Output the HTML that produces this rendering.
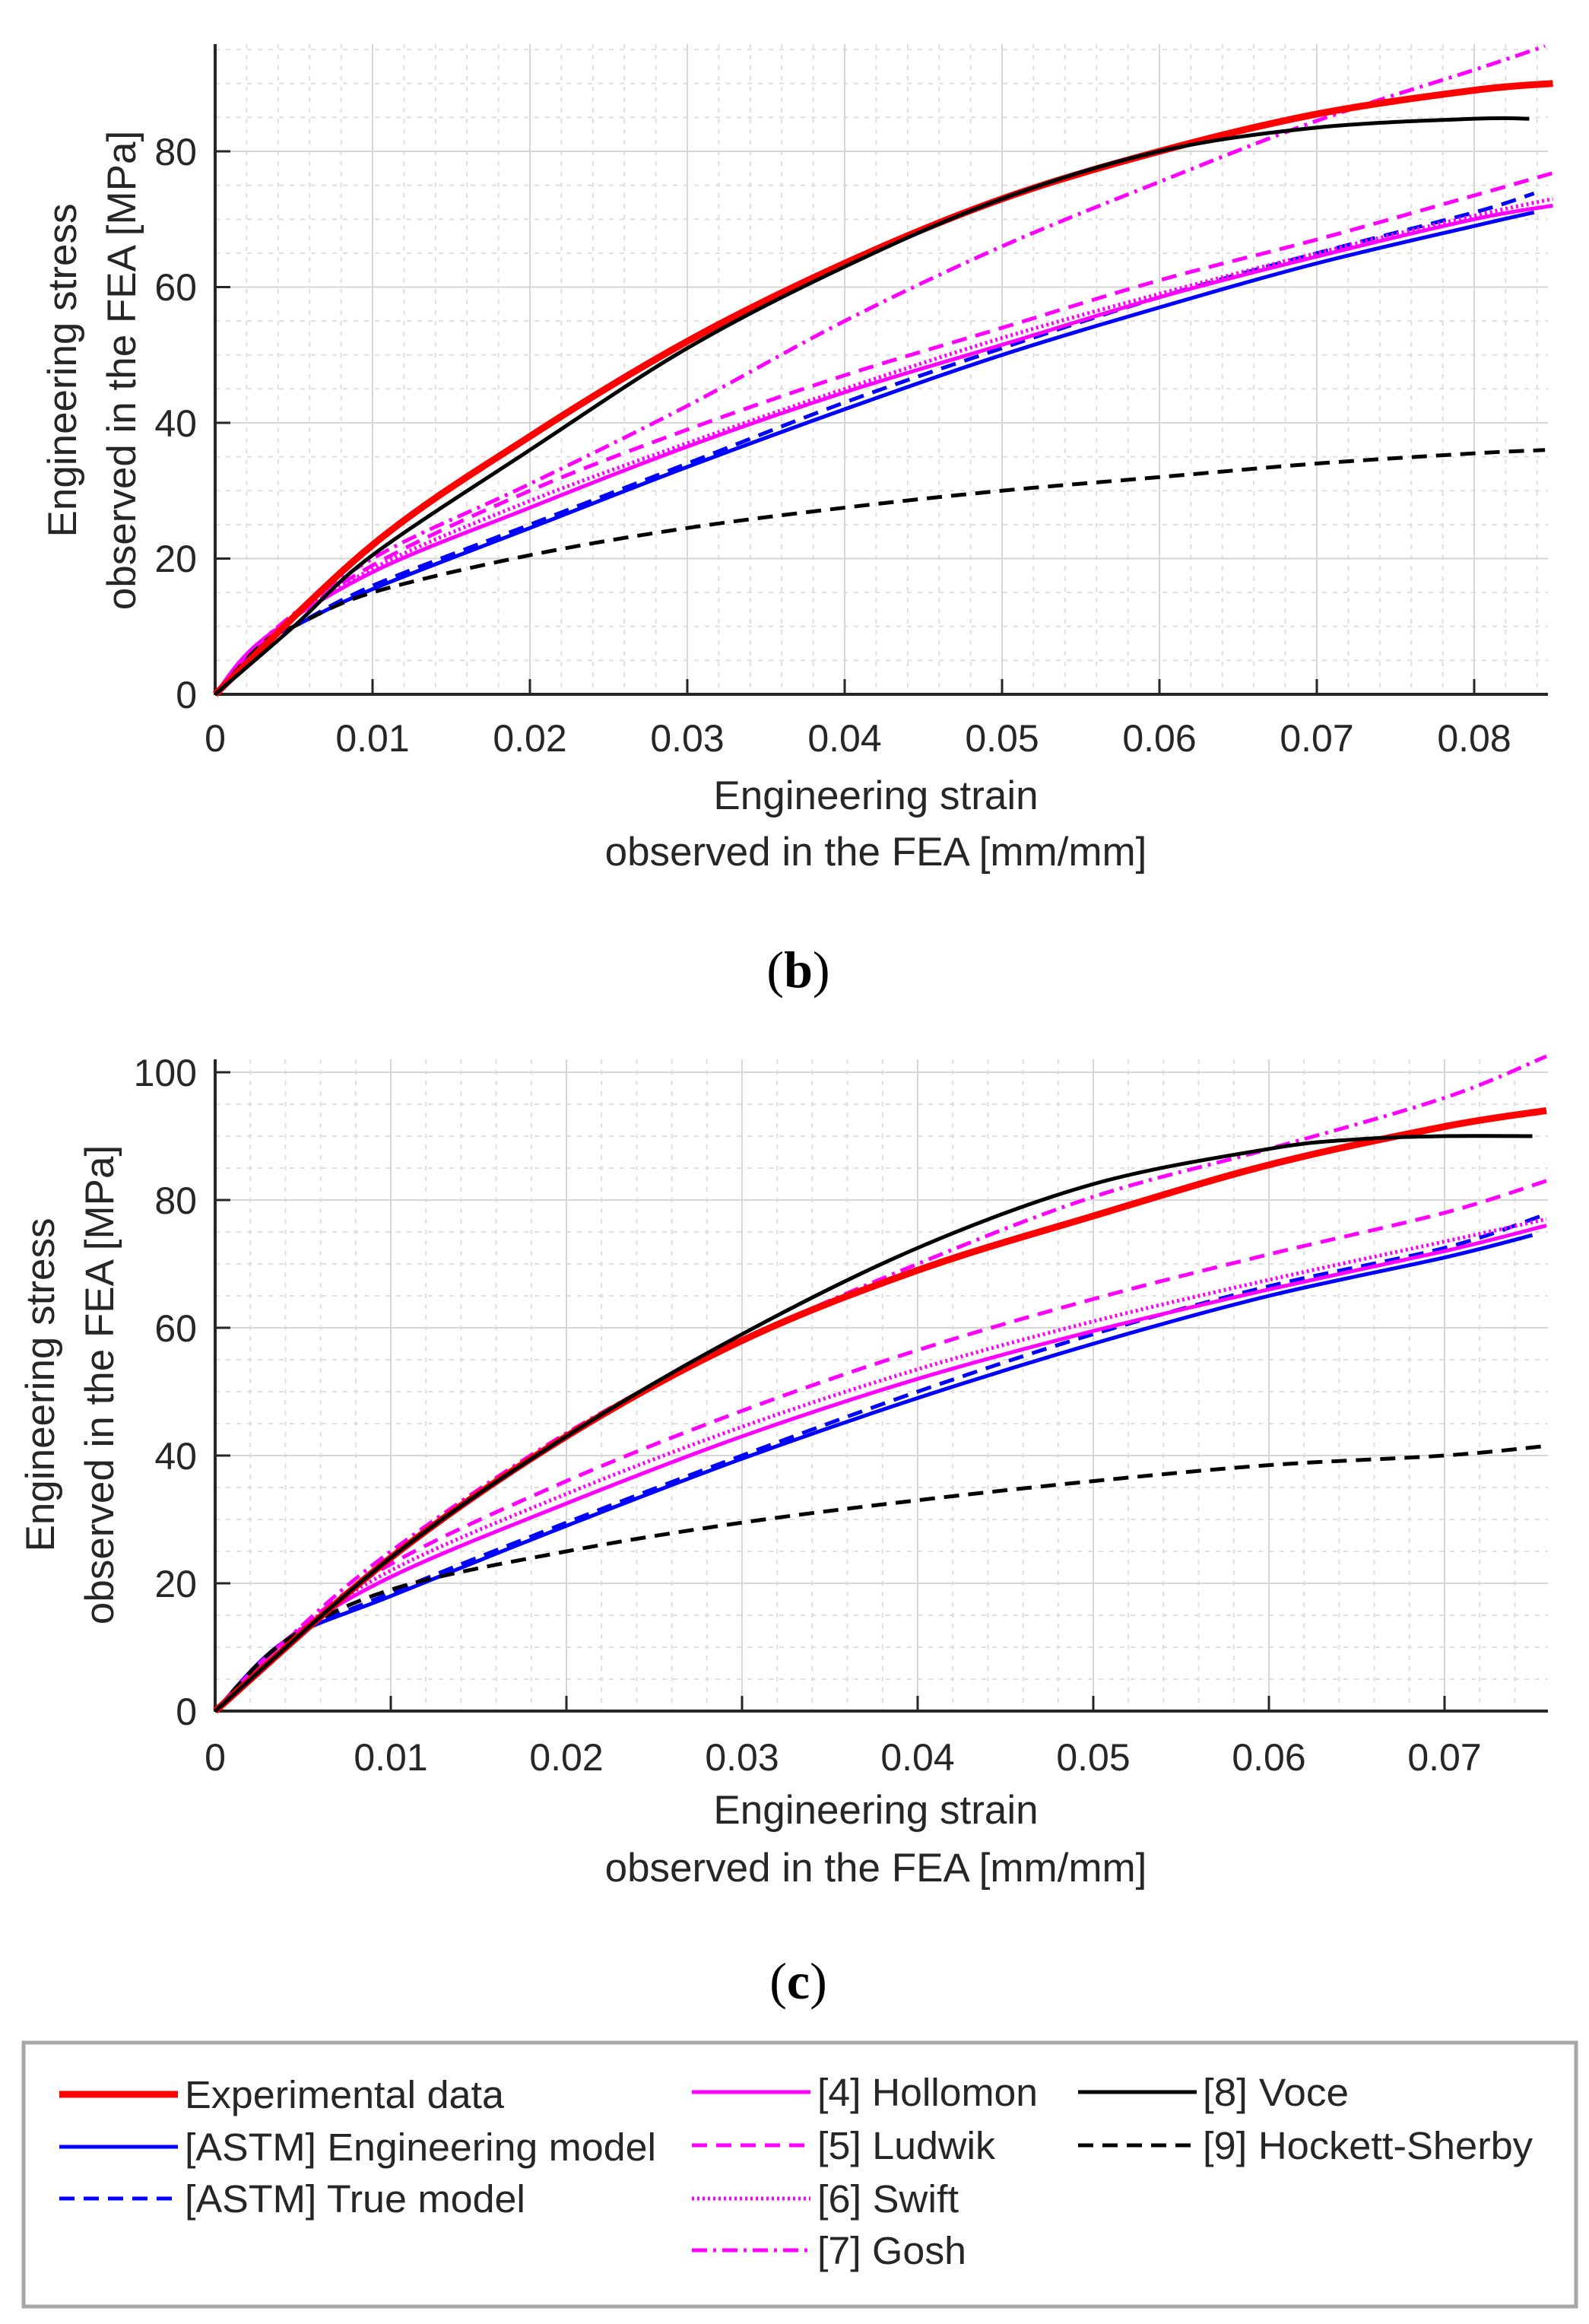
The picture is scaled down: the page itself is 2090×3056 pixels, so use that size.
<!DOCTYPE html>
<html><head><meta charset="utf-8"><style>
html,body{margin:0;padding:0;background:#fff;}
svg{display:block;}
text{font-family:"Liberation Sans",sans-serif;fill:#262626;}
</style></head><body>
<svg id="s" width="2090" height="3056" viewBox="0 0 2090 3056" xmlns="http://www.w3.org/2000/svg">
<g id="g1"></g><g id="g2"></g>
<g font-size="50">
<text x="259" y="931" text-anchor="end">0</text>
<text x="259" y="752" text-anchor="end">20</text>
<text x="259" y="574" text-anchor="end">40</text>
<text x="259" y="395" text-anchor="end">60</text>
<text x="259" y="217" text-anchor="end">80</text>
<text x="283" y="988" text-anchor="middle">0</text>
<text x="490" y="988" text-anchor="middle">0.01</text>
<text x="697" y="988" text-anchor="middle">0.02</text>
<text x="904" y="988" text-anchor="middle">0.03</text>
<text x="1111" y="988" text-anchor="middle">0.04</text>
<text x="1318" y="988" text-anchor="middle">0.05</text>
<text x="1525" y="988" text-anchor="middle">0.06</text>
<text x="1732" y="988" text-anchor="middle">0.07</text>
<text x="1939" y="988" text-anchor="middle">0.08</text>
</g>
<g font-size="53" text-anchor="middle">
<text x="1152" y="1064">Engineering strain</text>
<text x="1152" y="1138">observed in the FEA [mm/mm]</text>
<text transform="translate(100,487) rotate(-90)">Engineering stress</text>
<text transform="translate(178,487) rotate(-90)">observed in the FEA [MPa]</text>
</g>
<text x="1050" y="1298" font-size="68" text-anchor="middle" style="font-family:'Liberation Serif',serif;fill:#000">(<tspan font-weight="bold">b</tspan>)</text>
<g font-size="50">
<text x="259" y="2268" text-anchor="end">0</text>
<text x="259" y="2100" text-anchor="end">20</text>
<text x="259" y="1932" text-anchor="end">40</text>
<text x="259" y="1764" text-anchor="end">60</text>
<text x="259" y="1596" text-anchor="end">80</text>
<text x="259" y="1428" text-anchor="end">100</text>
<text x="283" y="2328" text-anchor="middle">0</text>
<text x="514" y="2328" text-anchor="middle">0.01</text>
<text x="745" y="2328" text-anchor="middle">0.02</text>
<text x="976" y="2328" text-anchor="middle">0.03</text>
<text x="1207" y="2328" text-anchor="middle">0.04</text>
<text x="1438" y="2328" text-anchor="middle">0.05</text>
<text x="1669" y="2328" text-anchor="middle">0.06</text>
<text x="1900" y="2328" text-anchor="middle">0.07</text>
</g>
<g font-size="53" text-anchor="middle">
<text x="1152" y="2398">Engineering strain</text>
<text x="1152" y="2474">observed in the FEA [mm/mm]</text>
<text transform="translate(71,1821) rotate(-90)">Engineering stress</text>
<text transform="translate(149,1821) rotate(-90)">observed in the FEA [MPa]</text>
</g>
<text x="1050" y="2628" font-size="68" text-anchor="middle" style="font-family:'Liberation Serif',serif;fill:#000">(<tspan font-weight="bold">c</tspan>)</text>
<rect x="31" y="2686" width="2042" height="347" fill="#fff" stroke="#a6a6a6" stroke-width="5"/>
<g stroke-width="5" fill="none">
<line x1="78" y1="2754" x2="234" y2="2754" stroke="#f00" stroke-width="9"/>
<line x1="78" y1="2823" x2="234" y2="2823" stroke="#00f"/>
<line x1="78" y1="2891" x2="234" y2="2891" stroke="#00f" stroke-dasharray="20 12"/>
<line x1="910" y1="2751" x2="1066" y2="2751" stroke="#f0f"/>
<line x1="910" y1="2821" x2="1066" y2="2821" stroke="#f0f" stroke-dasharray="20 12"/>
<line x1="910" y1="2891" x2="1066" y2="2891" stroke="#f0f" stroke-dasharray="3 4"/>
<line x1="910" y1="2959" x2="1066" y2="2959" stroke="#f0f" stroke-dasharray="20 8 4 8"/>
<line x1="1418" y1="2751" x2="1574" y2="2751" stroke="#000"/>
<line x1="1418" y1="2821" x2="1574" y2="2821" stroke="#000" stroke-dasharray="20 12"/>
</g>
<g font-size="51" style="fill:#000">
<text x="243" y="2772" textLength="420" lengthAdjust="spacingAndGlyphs">Experimental data</text>
<text x="243" y="2841" textLength="620" lengthAdjust="spacingAndGlyphs">[ASTM] Engineering model</text>
<text x="243" y="2909" textLength="448" lengthAdjust="spacingAndGlyphs">[ASTM] True model</text>
<text x="1075" y="2769" textLength="290" lengthAdjust="spacingAndGlyphs">[4] Hollomon</text>
<text x="1075" y="2839" textLength="234" lengthAdjust="spacingAndGlyphs">[5] Ludwik</text>
<text x="1075" y="2909" textLength="186" lengthAdjust="spacingAndGlyphs">[6] Swift</text>
<text x="1075" y="2977" textLength="196" lengthAdjust="spacingAndGlyphs">[7] Gosh</text>
<text x="1582" y="2769" textLength="192" lengthAdjust="spacingAndGlyphs">[8] Voce</text>
<text x="1582" y="2839" textLength="434" lengthAdjust="spacingAndGlyphs">[9] Hockett-Sherby</text>
</g>
</svg>
<script>
var NS="http://www.w3.org/2000/svg";
function el(p,t,a){var e=document.createElementNS(NS,t);for(var k in a)e.setAttribute(k,a[k]);p.appendChild(e);return e;}
function plot(gid,ax,series){
 var g=document.getElementById(gid);
 var X=function(v){return ax.x0+v*ax.sx;},Y=function(v){return ax.y0-v*ax.sy;};
 for(var v=0;v<=ax.xmax+1e-9;v+=0.002){var x=X(v);el(g,'line',{x1:x,x2:x,y1:ax.top,y2:ax.y0,stroke:'#dedede','stroke-width':2,'stroke-dasharray':'6 8'});}
 for(var v=0;v<=ax.ymax;v+=5){var y=Y(v);el(g,'line',{x1:ax.x0,x2:ax.right,y1:y,y2:y,stroke:'#dedede','stroke-width':2,'stroke-dasharray':'6 8'});}
 for(var v=0;v<=ax.xmax+1e-9;v+=0.01){var x=X(v);el(g,'line',{x1:x,x2:x,y1:ax.top,y2:ax.y0,stroke:'#d6d6d6','stroke-width':2});el(g,'line',{x1:x,x2:x,y1:ax.y0,y2:ax.y0-20,stroke:'#262626','stroke-width':3});}
 for(var v=0;v<=ax.ymax;v+=20){var y=Y(v);el(g,'line',{x1:ax.x0,x2:ax.right,y1:y,y2:y,stroke:'#d6d6d6','stroke-width':2});el(g,'line',{x1:ax.x0,x2:ax.x0+20,y1:y,y2:y,stroke:'#262626','stroke-width':3});}
 el(g,'line',{x1:ax.x0,x2:ax.x0,y1:ax.top,y2:ax.y0+1,stroke:'#262626','stroke-width':4});
 el(g,'line',{x1:ax.x0,x2:ax.right,y1:ax.y0,y2:ax.y0,stroke:'#262626','stroke-width':4});
 series.forEach(function(s){
  var p=s.d.map(function(q){return [X(q[0]),Y(q[1])];});
  var d='M'+p[0][0]+','+p[0][1];
  for(var i=0;i<p.length-1;i++){var a=p[Math.max(0,i-1)],b=p[i],c=p[i+1],e=p[Math.min(p.length-1,i+2)];
   d+=' C'+(b[0]+(c[0]-a[0])/6)+','+(b[1]+(c[1]-a[1])/6)+' '+(c[0]-(e[0]-b[0])/6)+','+(c[1]-(e[1]-b[1])/6)+' '+c[0]+','+c[1];}
  var at={d:d,fill:'none',stroke:s.c,'stroke-width':s.w||5,'stroke-linejoin':'round'};
  if(s.da)at['stroke-dasharray']=s.da;
  el(g,'path',at);
 });
}
var DA='20 12',DOT='3 4',DD='20 8 4 8';
plot('g1',{x0:283,y0:913,sx:20700,sy:8.925,top:58,right:2036,xmax:0.0846,ymax:95},[
 {c:'#00f',d:[[0,0],[0.003,7.5],[0.005,10],[0.01,15.5],[0.02,24.5],[0.03,33.5],[0.04,42],[0.05,50],[0.06,57],[0.07,63.5],[0.08,69],[0.0838,71]]},
 {c:'#00f',da:DA,d:[[0,0],[0.003,7.5],[0.005,10],[0.01,16],[0.02,25],[0.03,34],[0.04,43],[0.05,51],[0.06,58.5],[0.07,65],[0.08,71],[0.0838,73.8]]},
 {c:'#f0f',d:[[0,0],[0.003,8],[0.01,18],[0.02,27.5],[0.03,36.5],[0.04,44.5],[0.05,51.5],[0.06,58.5],[0.07,64.5],[0.08,70],[0.085,72]]},
 {c:'#f0f',da:DA,d:[[0,0],[0.003,8],[0.01,19],[0.02,30],[0.03,39],[0.04,47],[0.05,54],[0.06,61],[0.07,67],[0.08,73.5],[0.085,76.8]]},
 {c:'#f0f',da:DOT,d:[[0,0],[0.003,8],[0.01,18.5],[0.02,28.5],[0.03,37],[0.04,45],[0.05,52.5],[0.06,59],[0.07,65],[0.08,70.5],[0.085,73]]},
 {c:'#f0f',da:DD,d:[[0,0],[0.003,8],[0.01,20],[0.02,31],[0.03,42.5],[0.04,55],[0.05,66],[0.06,75.5],[0.07,84.5],[0.08,92],[0.0845,95.5]]},
 {c:'#000',da:DA,d:[[0,0],[0.003,7.5],[0.005,10],[0.01,15],[0.02,20.5],[0.03,24.5],[0.04,27.5],[0.05,30],[0.06,32],[0.07,34],[0.08,35.5],[0.0845,36]]},
 {c:'#f00',w:9,d:[[0,0],[0.01,22],[0.02,38],[0.03,52],[0.04,63.5],[0.05,73],[0.06,80],[0.07,85.5],[0.08,89],[0.085,90]]},
 {c:'#000',d:[[0,0],[0.005,10],[0.01,20.5],[0.02,36],[0.03,51],[0.04,63],[0.05,73],[0.06,80],[0.07,83.5],[0.08,84.8],[0.0835,84.8]]}
]);
plot('g2',{x0:283,y0:2250,sx:23100,sy:8.4,top:1393,right:2036,xmax:0.0758,ymax:100},[
 {c:'#00f',d:[[0,0],[0.004,11],[0.01,18],[0.02,29],[0.03,39.5],[0.04,49],[0.05,57.5],[0.06,65],[0.07,71],[0.075,74.5]]},
 {c:'#00f',da:DA,d:[[0,0],[0.004,11],[0.01,18.5],[0.02,29.5],[0.03,40],[0.04,50],[0.05,59],[0.06,66.5],[0.07,72.5],[0.0755,77.5]]},
 {c:'#f0f',d:[[0,0],[0.004,11],[0.01,21],[0.02,32.5],[0.03,43],[0.04,52],[0.05,59.5],[0.06,66],[0.07,72],[0.0758,76]]},
 {c:'#f0f',da:DA,d:[[0,0],[0.004,11],[0.01,23],[0.02,36],[0.03,47],[0.04,56.5],[0.05,64.5],[0.06,71.5],[0.07,78],[0.0758,83]]},
 {c:'#f0f',da:DOT,d:[[0,0],[0.004,11],[0.01,22],[0.02,34],[0.03,44.5],[0.04,53.5],[0.05,61],[0.06,67.5],[0.07,73.5],[0.0758,77]]},
 {c:'#f0f',da:DD,d:[[0,0],[0.004,11],[0.01,25],[0.02,43.5],[0.03,58],[0.04,70],[0.05,80.5],[0.06,88],[0.07,96],[0.0758,102.5]]},
 {c:'#000',da:DA,d:[[0,0],[0.004,11],[0.01,19],[0.02,25],[0.03,29.5],[0.04,33],[0.05,36],[0.06,38.5],[0.07,40],[0.0758,41.5]]},
 {c:'#f00',w:9,d:[[0,0],[0.01,24],[0.02,43],[0.03,58],[0.04,69],[0.05,77.5],[0.06,85.5],[0.07,91.5],[0.0758,94]]},
 {c:'#000',d:[[0,0],[0.01,24],[0.02,43],[0.03,59],[0.04,72.5],[0.05,82.5],[0.06,88],[0.065,89.5],[0.07,90],[0.075,90]]}
]);
</script>
</body></html>
